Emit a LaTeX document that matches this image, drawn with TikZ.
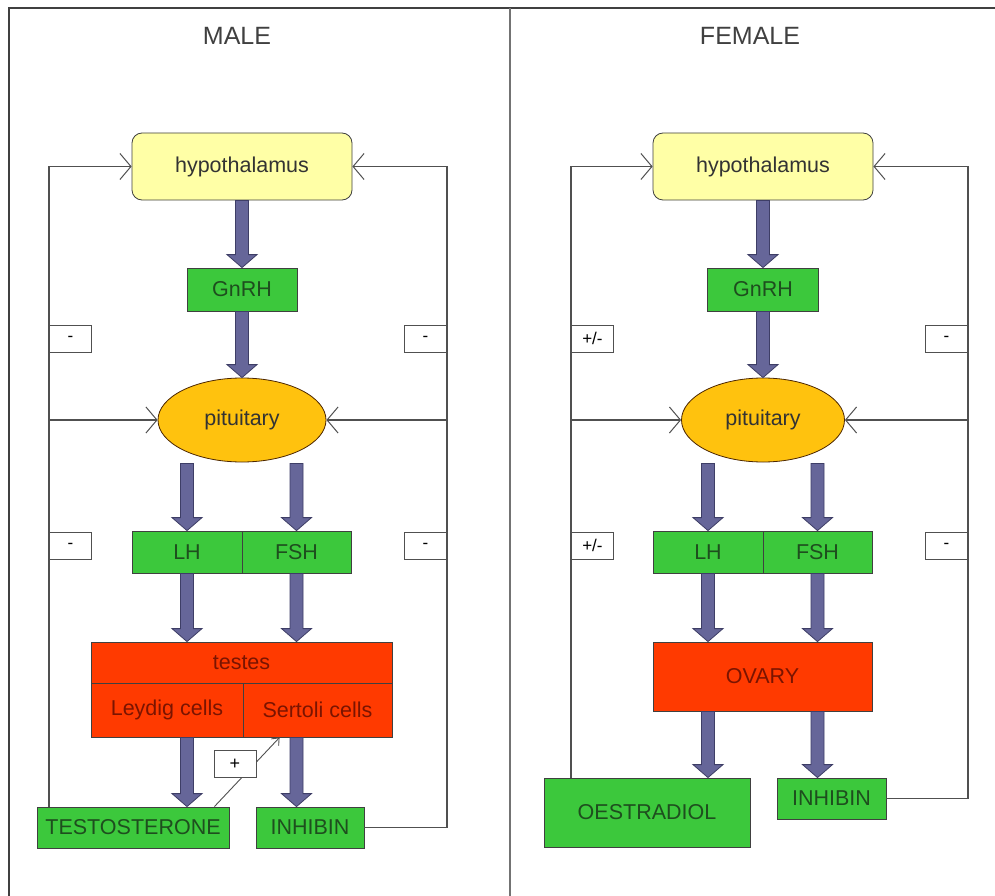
\documentclass[tikz,border=0pt]{standalone}
\usepackage{fontspec}
\setmainfont{Liberation Sans}
\usetikzlibrary{arrows.meta,calc,shapes.geometric}
\definecolor{grn}{HTML}{3CC83C}
\definecolor{grntxt}{HTML}{1E4E1E}
\definecolor{redf}{HTML}{FF3A00}
\definecolor{redtxt}{HTML}{7A1400}
\definecolor{yel}{HTML}{FFFFA6}
\definecolor{orng}{HTML}{FFC20E}
\definecolor{arrowc}{HTML}{666699}
\definecolor{arrowd}{HTML}{3E3E66}
\definecolor{linec}{HTML}{505050}
\begin{document}
\begin{tikzpicture}[x=1pt,y=-1pt,
  lbl/.style={font=\fontsize{21.5}{25}\selectfont},
  gbox/.style={lbl,draw=black!75,fill=grn,text=grntxt,line width=0.8pt,inner sep=0pt,rectangle},
  rbox/.style={lbl,draw=black!75,fill=redf,text=redtxt,line width=0.8pt,inner sep=0pt,rectangle},
  hbox/.style={lbl,draw=black!75,fill=yel,text=black!80,line width=0.8pt,inner sep=0pt,rounded corners=10pt,minimum width=220pt,minimum height=67pt},
  pbox/.style={lbl,draw=black!70!orange,fill=orng,text=black!80,line width=0.8pt,inner sep=0pt,ellipse,minimum height=84pt},
  sign/.style={draw=linec,fill=white,line width=0.9pt,minimum width=42pt,minimum height=27pt,inner sep=0pt,font=\fontsize{17}{20}\selectfont},
  title/.style={font=\fontsize{25}{30}\selectfont,text=black!75},
  fb/.style={draw=linec,line width=1.1pt},
  barb/.style={-{Straight Barb[length=11pt,width=26pt,line width=1pt]}},
  fat/.style={draw=arrowd,fill=arrowc,line width=0.8pt,to path={
    ($(\tikztostart)+(-6.5,0)$) -- ($(\tikztotarget)+(-6.5,-13)$) -- ($(\tikztotarget)+(-15,-13)$) --
    (\tikztotarget) -- ($(\tikztotarget)+(15,-13)$) -- ($(\tikztotarget)+(6.5,-13)$) --
    ($(\tikztostart)+(6.5,0)$) -- cycle}}
  ]
\useasboundingbox (0,0) rectangle (995,896);
\fill[white] (0,0) rectangle (995,896);
% frame
\draw[draw=black!75,line width=1.6pt] (9,896) -- (9,8) -- (995,8);
\draw[draw=black!55,line width=2pt] (510,8) -- (510,896);

\node[title] (male) at (237,36) {MALE};
\node[title] (female) at (750,36) {FEMALE};

% ---------------- MALE ----------------
\coordinate (mL) at (49,0);
\coordinate (mR) at (447,0);
\node[hbox] (hyp) at (242,166.5) {hypothalamus};
\node[gbox,minimum width=110pt,minimum height=43pt] (gnrh) at (242,289.5) {GnRH};
\node[pbox,minimum width=168pt] (pit) at (242,420) {pituitary};
\node[gbox,minimum width=110pt,minimum height=42pt] (lh) at (187,552) {LH};
\node[gbox,minimum width=109pt,minimum height=42pt] (fsh) at (296.5,552) {FSH};
\node[rbox,minimum width=301pt,minimum height=41pt] (testes) at (241.5,662.5) {testes};
\node[rbox,minimum width=152pt,minimum height=54pt] (leydig) at (167,710) {Leydig cells};
\node[rbox,minimum width=149pt,minimum height=54pt] (sertoli) at (317.5,710) {Sertoli cells};
\node[gbox,minimum width=192pt,minimum height=41pt] (testo) at (133,827.5) {TESTOSTERONE};
\node[gbox,minimum width=108pt,minimum height=41pt] (inh) at (310,827.5) {INHIBIN};

\path[fat] (hyp.south) to (gnrh.north);
\path[fat] (gnrh.south) to (pit.north);
\path[fat] ($(pit.south -| lh.north)+(0,1)$) to (lh.north);
\path[fat] ($(pit.south -| fsh.north)+(0,1)$) to (fsh.north);
\path[fat] (lh.south) to (testes.north -| lh.south);
\path[fat] (fsh.south) to (testes.north -| fsh.south);
\path[fat] (leydig.south -| lh.south) to (testo.north -| lh.south);
\path[fat] (sertoli.south -| fsh.south) to (inh.north -| fsh.south);

\draw[fb,barb] (testo.north -| mL) -- (mL |- hyp.west) -- (hyp.west);
\draw[fb,barb] (mL |- pit.west) -- (pit.west);
\draw[fb,barb] (inh.east) -- (inh.east -| mR) -- (mR |- hyp.east) -- (hyp.east);
\draw[fb,barb] (mR |- pit.east) -- (pit.east);

\draw[fb,line width=0.9pt,-{Straight Barb[length=6pt,width=10pt,line width=0.9pt]}]
  ($(testo.north east)+(-15,0)$) -- ($(sertoli.south west)+(37,0)$);
\node[sign,font=\fontsize{18}{20}\selectfont] (plus) at (235,764) {+};

\node[sign,anchor=west] (m1) at (mL |- 0,338.5) {\raisebox{-3pt}{-}};
\node[sign,anchor=west] (m2) at (mL |- 0,545.5) {\raisebox{-3pt}{-}};
\node[sign,anchor=east] (m3) at (mR |- 0,338.5) {\raisebox{-3pt}{-}};
\node[sign,anchor=east] (m4) at (mR |- 0,545.5) {\raisebox{-3pt}{-}};

% ---------------- FEMALE ----------------
\coordinate (fL) at (571,0);
\coordinate (fR) at (968,0);
\node[hbox] (hyp2) at (763,166.5) {hypothalamus};
\node[gbox,minimum width=111pt,minimum height=43pt] (gnrh2) at (763,289.5) {GnRH};
\node[pbox,minimum width=163pt] (pit2) at (763,420) {pituitary};
\node[gbox,minimum width=110pt,minimum height=42pt] (lh2) at (708,552) {LH};
\node[gbox,minimum width=109pt,minimum height=42pt] (fsh2) at (817.5,552) {FSH};
\node[rbox,minimum width=219pt,minimum height=69pt] (ovary) at (762.5,676.5) {OVARY};
\node[gbox,minimum width=206pt,minimum height=69pt] (oes) at (647,812.5) {OESTRADIOL};
\node[gbox,minimum width=109pt,minimum height=41pt] (inh2) at (831.5,798.5) {INHIBIN};

\path[fat] (hyp2.south) to (gnrh2.north);
\path[fat] (gnrh2.south) to (pit2.north);
\path[fat] ($(pit2.south -| lh2.north)+(0,1)$) to (lh2.north);
\path[fat] ($(pit2.south -| fsh2.north)+(0,1)$) to (fsh2.north);
\path[fat] (lh2.south) to (ovary.north -| lh2.south);
\path[fat] (fsh2.south) to (ovary.north -| fsh2.south);
\path[fat] (ovary.south -| lh2.south) to (oes.north -| lh2.south);
\path[fat] (ovary.south -| fsh2.south) to (inh2.north -| fsh2.south);

\draw[fb,barb] (oes.north -| fL) -- (fL |- hyp2.west) -- (hyp2.west);
\draw[fb,barb] (fL |- pit2.west) -- (pit2.west);
\draw[fb,barb] (inh2.east) -- (inh2.east -| fR) -- (fR |- hyp2.east) -- (hyp2.east);
\draw[fb,barb] (fR |- pit2.east) -- (pit2.east);

\node[sign,anchor=west] (f1) at (fL |- 0,338.5) {+/-};
\node[sign,anchor=west] (f2) at (fL |- 0,545.5) {+/-};
\node[sign,anchor=east] (f3) at (fR |- 0,338.5) {\raisebox{-3pt}{-}};
\node[sign,anchor=east] (f4) at (fR |- 0,545.5) {\raisebox{-3pt}{-}};
\end{tikzpicture}
\end{document}
